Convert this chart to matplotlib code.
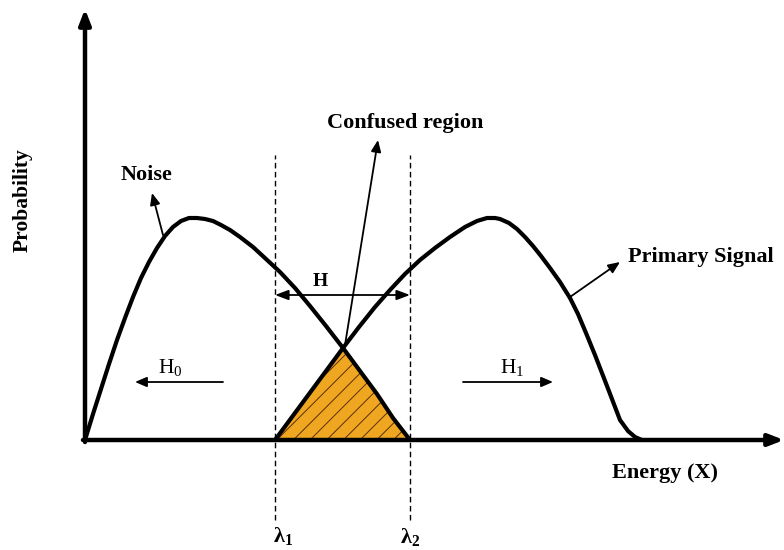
import matplotlib.pyplot as plt
from matplotlib.patches import Polygon

plt.rcParams["font.family"] = ["Liberation Serif", "DejaVu Serif"]
plt.rcParams["mathtext.fontset"] = "custom"
plt.rcParams["mathtext.rm"] = "Liberation Serif"
plt.rcParams["mathtext.it"] = "Liberation Serif:italic"
plt.rcParams["mathtext.bf"] = "Liberation Serif:bold"
plt.rcParams["hatch.linewidth"] = 0.7

# curve shapes (energy, probability)
noise_energy = [0, 8, 16, 24, 32, 40, 48, 56, 64, 72, 80, 88, 96, 104, 112,
                120, 128, 136, 145, 155, 168, 181, 195, 210, 225, 241, 258, 275, 292, 308, 325]
noise_prob = [0, 26, 51, 76, 100, 122, 143, 162, 178, 192, 204, 213, 219, 222, 222,
              221, 219, 215, 210, 203, 193, 181, 168, 152, 134, 114, 92, 69, 46, 22, 0]
signal_energy = [190, 207, 224, 241, 258, 274, 290, 305, 320, 335, 350, 365, 380, 392, 402, 410,
                 415, 424, 432, 440, 448, 456, 465, 475, 485, 493, 501, 510, 522, 535, 543, 550, 557]
signal_prob = [0, 23, 46, 69, 92, 113, 133, 150, 166, 180, 192, 203, 213, 219, 222, 222,
               221, 217, 211, 203, 194, 184, 172, 158, 142, 126, 107, 85, 54, 20, 9, 3, 0]
lambda1, lambda2 = 190, 325
cross_energy, cross_prob = 258, 92

fig = plt.figure(figsize=(7.84, 5.5), dpi=100)
ax = fig.add_axes([0, 0, 1, 1])
ax.set_xlim(-85, 699)
ax.set_ylim(-110, 440)
ax.axis("off")

# axes with arrows
axis_arrow = dict(arrowstyle="-|>,head_length=0.9,head_width=0.35", lw=3.2, color="black",
                  shrinkA=0, shrinkB=0)
ax.annotate("", xy=(0, 431), xytext=(0, -2), arrowprops=axis_arrow)
ax.annotate("", xy=(699, 0), xytext=(-2, 0), arrowprops=axis_arrow)

# confused region
tri = Polygon([(lambda1, 0), (cross_energy, cross_prob), (lambda2, 0)], closed=True,
              facecolor="#EFA722", edgecolor="#5a2e00", hatch="//", lw=0, zorder=2)
ax.add_patch(tri)

ax.plot(noise_energy, noise_prob, color="black", lw=3, solid_capstyle="round",
        solid_joinstyle="round", zorder=3)
ax.plot(signal_energy, signal_prob, color="black", lw=3, solid_capstyle="round",
        solid_joinstyle="round", zorder=3)

# thresholds
for lam in (lambda1, lambda2):
    ax.plot([lam, lam], [-80, 285], color="black", lw=1, ls=(0, (4, 2.5)), zorder=1)
ax.text(lambda1 + 8, -96, r"$\mathbf{λ_1}$", fontsize=16, ha="center", va="center")
ax.text(lambda2, -97, r"$\mathbf{λ_2}$", fontsize=16, ha="center", va="center")

thin = dict(arrowstyle="-|>,head_length=0.7,head_width=0.3", lw=1.3, color="black",
            shrinkA=0, shrinkB=0)
ax.annotate("", xy=(lambda1, 145), xytext=(lambda2, 145),
            arrowprops=dict(arrowstyle="<|-|>,head_length=0.8,head_width=0.3", lw=1.3, color="black",
                            shrinkA=0, shrinkB=0))
ax.text(235, 158, "H", fontsize=14, fontweight="bold", ha="center", va="center")

ax.annotate("", xy=(50, 58), xytext=(138, 58), arrowprops=thin)
ax.text(85, 72, r"$\mathrm{H}_0$", fontsize=15.5, ha="center", va="center")
ax.annotate("", xy=(468, 58), xytext=(378, 58), arrowprops=thin)
ax.text(427, 73, r"$\mathrm{H}_1$", fontsize=15.5, ha="center", va="center")

# labels
ax.annotate("", xy=(67, 247), xytext=(78, 205), arrowprops=thin)
ax.text(62, 265, "Noise", fontsize=16, fontweight="bold", ha="center", va="center")
ax.annotate("", xy=(293, 300), xytext=(260, 95), arrowprops=thin)
ax.text(320, 317, "Confused region", fontsize=16, fontweight="bold", ha="center", va="center")
ax.annotate("", xy=(535, 178), xytext=(485, 143), arrowprops=thin)
ax.text(543, 183, "Primary Signal", fontsize=16, fontweight="bold", ha="left", va="center")

ax.text(-62, 240, "Probability", fontsize=15.5, fontweight="bold", rotation=90, ha="center", va="center")
ax.text(580, -33, "Energy (X)", fontsize=16, fontweight="bold", ha="center", va="center")

fig.savefig("out.png", dpi=100)
